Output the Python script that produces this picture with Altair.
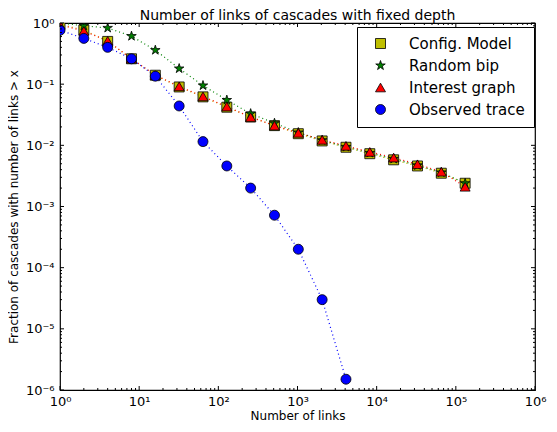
import altair as alt
import pandas as pd
import math

# ---- data ----
links = [1, 2, 4, 8, 16, 32, 64, 128, 256, 512, 1024, 2048, 4096, 8192,
         16384, 32768, 65536, 131072]
config_model = [0.95, 0.77, 0.50, 0.26, 0.14, 0.090, 0.062, 0.042, 0.029, 0.021,
                0.0155, 0.0118, 0.0093, 0.0073, 0.0058, 0.0046, 0.0035, 0.0024]
random_bip = [1.0, 0.90, 0.83, 0.61, 0.36, 0.18, 0.095, 0.055, 0.033, 0.023,
              0.0162, 0.0121, 0.0094, 0.0075, 0.0060, 0.0047, 0.0036, 0.0024]
interest_graph = [0.93, 0.74, 0.51, 0.26, 0.14, 0.092, 0.063, 0.043, 0.029, 0.021,
                  0.0160, 0.0123, 0.0098, 0.0078, 0.0063, 0.0049, 0.0037, 0.0021]
observed_trace = [0.76, 0.56, 0.40, 0.26, 0.135, 0.044, 0.0115, 0.0046, 0.0020,
                  0.00072, 0.00020, 0.00003, 0.0000015]

series_names = ["Config. Model", "Random bip", "Interest graph", "Observed trace"]
series_values = [config_model, random_bip, interest_graph, observed_trace]
series_colors = ["#bfbf00", "#008000", "#ff0000", "#0000ff"]
star = ("M0,-1L0.2245,-0.309L0.9511,-0.309L0.3633,0.118L0.5878,0.809L0,0.382"
        "L-0.5878,0.809L-0.3633,0.118L-0.9511,-0.309L-0.2245,-0.309Z")
series_shapes = ["square", star, "triangle-up", "circle"]

x_major = [1, 10, 100, 1000, 10000, 100000, 1000000]
x_labels = ["10⁰", "10¹", "10²", "10³", "10⁴", "10⁵", "10⁶"]
y_major = [1e-6, 1e-5, 1e-4, 1e-3, 1e-2, 1e-1, 1]
y_labels = ["10⁻⁶", "10⁻⁵", "10⁻⁴", "10⁻³", "10⁻²", "10⁻¹", "10⁰"]

rows = []
for order, (name, vals) in enumerate(zip(series_names, series_values)):
    for i, v in enumerate(vals):
        rows.append({"series": name, "order": order, "links": links[i], "frac": v})
df = pd.DataFrame(rows)

x_minor = [m * 10 ** d for d in range(0, 6) for m in range(2, 10)]
y_minor = [m * 10.0 ** d for d in range(-6, 0) for m in range(2, 10)]

W, H = 475, 367
FONT = "DejaVu Sans"

xs = alt.Scale(type="log", domain=[1, 1e6], nice=False)
ys = alt.Scale(type="log", domain=[1e-6, 1], nice=False)


def label_expr(vals, labels):
    expr = "''"
    for v, l in zip(vals, labels):
        expr = f"abs(log(datum.value)/LN10 - ({math.log10(v)})) < 0.01 ? '{l}' : ({expr})"
    return expr


x_axis = alt.Axis(values=x_major, labelExpr=label_expr(x_major, x_labels),
                  title="Number of links", ticks=False, domain=False, grid=False,
                  labelFontSize=13, labelFont=FONT, labelColor="black",
                  labelPadding=5, titleFont=FONT, titleFontSize=12,
                  titleFontWeight="normal", titleColor="black", titlePadding=2,
                  labelFlush=False)
y_axis = alt.Axis(values=y_major, labelExpr=label_expr(y_major, y_labels),
                  title="Fraction of cascades with number of links > x",
                  ticks=False, domain=False, grid=False,
                  labelFontSize=13, labelFont=FONT, labelColor="black",
                  labelPadding=6, titleFont=FONT, titleFontSize=12,
                  titleFontWeight="normal", titleColor="black", titlePadding=5,
                  labelFlush=False)

layers = []
for name, col in zip(series_names, series_colors):
    layers.append(
        alt.Chart(df[df.series == name]).mark_line(
            strokeDash=[1, 3], strokeWidth=1.2, clip=True, color=col).encode(
            x=alt.X("links:Q", scale=xs, axis=x_axis),
            y=alt.Y("frac:Q", scale=ys, axis=y_axis),
            order="links:Q",
        )
    )

points = alt.Chart(df).mark_point(filled=True, opacity=1, stroke="black",
                                  strokeWidth=0.8, clip=True, size=100).encode(
    x=alt.X("links:Q", scale=xs),
    y=alt.Y("frac:Q", scale=ys),
    color=alt.Color("series:N", scale=alt.Scale(domain=series_names, range=series_colors),
                    legend=alt.Legend(title=None, orient="none", legendX=297, legendY=4,
                                      strokeColor="black", fillColor="white",
                                      padding=9, rowPadding=6, labelFontSize=15,
                                      labelFont=FONT, labelColor="black",
                                      symbolSize=100, symbolStrokeColor="black",
                                      symbolStrokeWidth=0.8, symbolOffset=7,
                                      labelOffset=21)),
    shape=alt.Shape("series:N", scale=alt.Scale(domain=series_names, range=series_shapes)),
    order="order:Q",
)
layers.append(points)


def tick_layer(vals, axis, length):
    d = pd.DataFrame({"v": vals})
    out = []
    if axis == "x":
        out.append(alt.Chart(d).mark_rule(color="black", strokeWidth=1).encode(
            x=alt.X("v:Q", scale=xs), y=alt.value(H), y2=alt.value(H - length)))
        out.append(alt.Chart(d).mark_rule(color="black", strokeWidth=1).encode(
            x=alt.X("v:Q", scale=xs), y=alt.value(0), y2=alt.value(length)))
    else:
        out.append(alt.Chart(d).mark_rule(color="black", strokeWidth=1).encode(
            y=alt.Y("v:Q", scale=ys), x=alt.value(0), x2=alt.value(length)))
        out.append(alt.Chart(d).mark_rule(color="black", strokeWidth=1).encode(
            y=alt.Y("v:Q", scale=ys), x=alt.value(W), x2=alt.value(W - length)))
    return out


layers += (tick_layer(x_major, "x", 4) + tick_layer(x_minor, "x", 2)
           + tick_layer(y_major, "y", 4) + tick_layer(y_minor, "y", 2))

chart = alt.layer(*layers).properties(
    width=W, height=H,
    title=alt.TitleParams("Number of links of cascades with fixed depth",
                          fontSize=14, font=FONT, fontWeight="normal",
                          color="black", offset=-6),
    autosize=alt.AutoSizeParams(type="none"),
    padding={"left": 52, "top": 15, "right": 14, "bottom": 34},
).configure_view(stroke="black", strokeWidth=1.2)

chart.save("out.html", embed_options={"renderer": "svg", "actions": False})
